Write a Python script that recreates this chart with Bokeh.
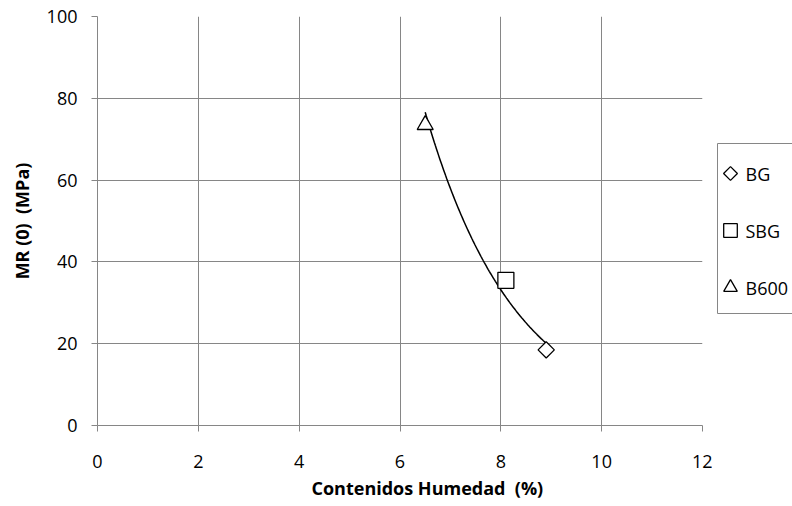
import numpy as np
from bokeh.plotting import figure
from bokeh.layouts import row
from bokeh.models import Range1d, FixedTicker, Title
from bokeh.core.properties import value
from bokeh.embed import file_html
from bokeh.resources import INLINE

# Resilient modulus vs. moisture content for three materials
materials = ["BG", "SBG", "B600"]
humedad = [8.9, 8.1, 6.5]          # moisture content (%)
mr0 = [18.5, 35.5, 73.5]           # MR(0) (MPa)

x_ticks = [0, 2, 4, 6, 8, 10, 12]
y_ticks = [0, 20, 40, 60, 80, 100]

FONT = "Open Sans"
GRID = "#868686"
TEXT = "#000000"
PT = dict(fill_color="white", line_color="black", line_width=1.3)
# marker shape per material: (marker, angle, size)
SHAPES = {"BG": ("square", np.pi / 4, 11.5),
          "SBG": ("square", 0.0, 16),
          "B600": ("triangle", 0.0, 16)}

TOP, BOTTOM = 16, 81   # borders shared by both panels of the row

p = figure(width=712, height=506, output_backend="svg", toolbar_location=None,
           x_range=Range1d(0, 12), y_range=Range1d(0, 100),
           min_border_left=97, min_border_right=10,
           min_border_top=TOP, min_border_bottom=BOTTOM)
p.outline_line_color = None

for g in (p.xgrid, p.ygrid):
    g.grid_line_color = GRID
    g.grid_line_width = 1
p.xgrid.ticker = FixedTicker(ticks=x_ticks)
p.ygrid.ticker = FixedTicker(ticks=y_ticks)

for ax in (p.xaxis, p.yaxis):
    ax.axis_line_color = GRID
    ax.major_tick_line_color = GRID
    ax.minor_tick_line_color = None
    ax.major_tick_in = 0
    ax.major_tick_out = 6
    ax.major_label_text_font = FONT
    ax.major_label_text_font_size = "18px"
    ax.major_label_text_color = TEXT
p.xaxis.ticker = FixedTicker(ticks=x_ticks)
p.yaxis.ticker = FixedTicker(ticks=y_ticks)
p.xaxis.major_label_standoff = 23
p.yaxis.major_label_standoff = 14

p.yaxis.axis_label = "MR (0)\u00a0 (MPa)"
p.yaxis.axis_label_text_font = FONT
p.yaxis.axis_label_text_font_size = "18px"
p.yaxis.axis_label_text_font_style = "bold"
p.yaxis.axis_label_text_color = TEXT
p.yaxis.axis_label_standoff = 10

xtitle = Title(text="Contenidos Humedad\u00a0 (%)", align="left", offset=214,
               text_font=FONT, text_font_size="18px", text_font_style="bold",
               text_color=TEXT, standoff=6)
p.add_layout(xtitle, "below")

# exponential trend line fitted to the three points
b, ln_a = np.polyfit(humedad, np.log(mr0), 1)
xt = np.linspace(min(humedad), max(humedad), 120)
p.line(xt, np.exp(ln_a + b * xt), line_color="black", line_width=1.5)

for name, hx, hy in zip(materials, humedad, mr0):
    mk, ang, sz = SHAPES[name]
    p.scatter([hx], [hy], marker=mk, angle=ang, size=sz, **PT)

# legend panel to the right of the chart (1 data unit = 1 pixel,
# y measured upward from the bottom of the shared frame)
frame_h = 506 - TOP - BOTTOM
leg = figure(width=80, height=506, output_backend="svg", toolbar_location=None,
             x_range=Range1d(0, 78), y_range=Range1d(0, frame_h),
             min_border_left=2, min_border_right=0,
             min_border_top=TOP, min_border_bottom=BOTTOM)
leg.outline_line_color = None
leg.axis.visible = False
leg.grid.visible = False
leg.quad(left=3, right=200, bottom=112, top=282,
         fill_color="white", line_color=GRID, line_width=1)
row_y = [252 - 57 * i for i in range(len(materials))]
for name, ry in zip(materials, row_y):
    mk, ang, sz = SHAPES[name]
    leg.scatter([16], [ry], marker=mk, angle=ang, size=sz * 0.85, **PT)
leg.text(x=[31] * len(materials), y=row_y, text=materials,
         text_font=value(FONT), text_font_size="18px", text_color=TEXT,
         text_baseline="middle", text_align="left")

open("out.html", "w").write(file_html(row(p, leg), INLINE))
